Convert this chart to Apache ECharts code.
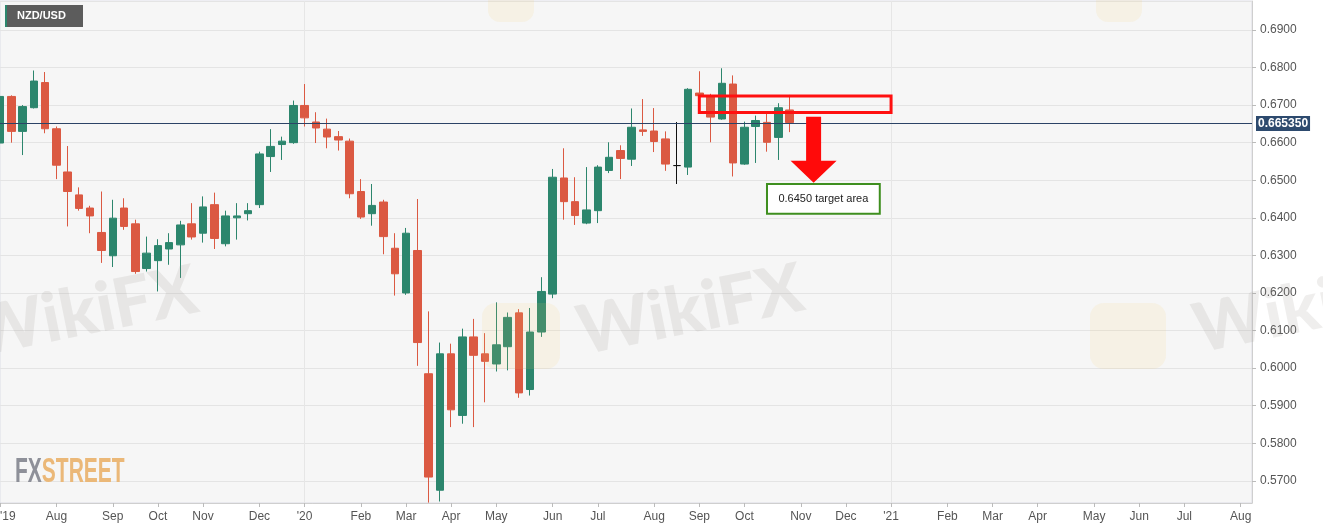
<!DOCTYPE html>
<html lang="en">
<head>
    <meta charset="UTF-8">
    <title>NZD/USD</title>
    <script src="https://cdn.jsdelivr.net/npm/echarts@6/dist/echarts.min.js"></script>
    <style>
        html, body { margin: 0; padding: 0; background: #fff; }
    </style>
</head>
<body>
<div id="box" style="width: 1323px;height: 529px;"></div>
<script>
    // weekly bars, first one is the week of 23 Jun 2019
    var firstWeek = '2019-06-23';
    var weekCount = 112;
    var monthNames = ['Jan', 'Feb', 'Mar', 'Apr', 'May', 'Jun', 'Jul', 'Aug', 'Sep', 'Oct', 'Nov', 'Dec'];

    var opens = [0.6599, 0.6723, 0.6630, 0.6693, 0.6760, 0.6637, 0.6522, 0.6461, 0.6426, 0.6361,
        0.6299, 0.6426, 0.6384, 0.6265, 0.6286, 0.6317, 0.6328, 0.6384, 0.6359, 0.6435,
        0.6331, 0.6400, 0.6411, 0.6435, 0.6563, 0.6595, 0.6600, 0.6699, 0.6655, 0.6636,
        0.6616, 0.6604, 0.6470, 0.6411, 0.6442, 0.6319, 0.6200, 0.6313, 0.5985, 0.5675,
        0.6038, 0.5874, 0.6083, 0.6038, 0.6011, 0.6057, 0.6147, 0.5943, 0.6096, 0.6197,
        0.6506, 0.6443, 0.6386, 0.6419, 0.6526, 0.6579, 0.6556, 0.6634, 0.6631, 0.6610,
        0.6539, 0.6535, 0.6732, 0.6723, 0.6663, 0.6756, 0.6543, 0.6643, 0.6654, 0.6614,
        0.6687];
    var highs = [0.6730, 0.6726, 0.6700, 0.6792, 0.6788, 0.6643, 0.6591, 0.6481, 0.6432, 0.6470,
        0.6448, 0.6452, 0.6395, 0.6350, 0.6343, 0.6359, 0.6392, 0.6439, 0.6457, 0.6467,
        0.6419, 0.6439, 0.6439, 0.6576, 0.6636, 0.6616, 0.6712, 0.6756, 0.6681, 0.6664,
        0.6631, 0.6611, 0.6503, 0.6490, 0.6448, 0.6359, 0.6373, 0.6450, 0.6151, 0.6068,
        0.6065, 0.6105, 0.6131, 0.6093, 0.6175, 0.6148, 0.6157, 0.6160, 0.6242, 0.6530,
        0.6585, 0.6508, 0.6535, 0.6540, 0.6601, 0.6593, 0.6691, 0.6716, 0.6692, 0.6630,
        0.6655, 0.6745, 0.6790, 0.6730, 0.6798, 0.6779, 0.6656, 0.6672, 0.6683, 0.6705,
        0.6727];
    // the two March 2020 lows run off the bottom of the window: read at the edge
    var lows = [0.6590, 0.6600, 0.6567, 0.6691, 0.6625, 0.6503, 0.6377, 0.6419, 0.6359, 0.6280,
        0.6269, 0.6368, 0.6251, 0.6257, 0.6204, 0.6275, 0.6240, 0.6342, 0.6334, 0.6317,
        0.6324, 0.6342, 0.6393, 0.6426, 0.6522, 0.6554, 0.6597, 0.6643, 0.6599, 0.6585,
        0.6579, 0.6452, 0.6397, 0.6379, 0.6303, 0.6193, 0.6195, 0.6006, 0.5642, 0.5645,
        0.5843, 0.5852, 0.5843, 0.5909, 0.5991, 0.5994, 0.5921, 0.5927, 0.6083, 0.6186,
        0.6395, 0.6381, 0.6383, 0.6386, 0.6519, 0.6503, 0.6538, 0.6618, 0.6575, 0.6525,
        0.6490, 0.6514, 0.6690, 0.6601, 0.6661, 0.6510, 0.6541, 0.6546, 0.6576, 0.6554,
        0.6628];
    var closes = [0.6723, 0.6630, 0.6696, 0.6764, 0.6637, 0.6540, 0.6470, 0.6425, 0.6405, 0.6313,
        0.6399, 0.6377, 0.6257, 0.6306, 0.6326, 0.6334, 0.6381, 0.6349, 0.6429, 0.6345,
        0.6405, 0.6405, 0.6419, 0.6570, 0.6590, 0.6604, 0.6699, 0.6666, 0.6639, 0.6615,
        0.6607, 0.6464, 0.6402, 0.6433, 0.6350, 0.6251, 0.6359, 0.6068, 0.5710, 0.6038,
        0.5889, 0.6083, 0.6034, 0.6018, 0.6062, 0.6135, 0.5934, 0.6096, 0.6204, 0.6508,
        0.6443, 0.6406, 0.6421, 0.6535, 0.6561, 0.6558, 0.6641, 0.6630, 0.6603, 0.6543,
        0.6539, 0.6742, 0.6725, 0.6668, 0.6758, 0.6546, 0.6641, 0.6659, 0.6601, 0.6693,
        0.66535];

    var lastPrice = 0.66535;
    // [from week, to week, top, bottom]
    var zoneBox = [62, 79, 0.6724, 0.6680];
    var targetBox = [68, 78, 0.6490, 0.6411];
    var targetText = '0.6450 target area';
    // [week, shaft top, head base, tip]
    var arrowLine = [72, 0.6669, 0.6552, 0.6493];

    var green = '#2c866d', red = '#db5942';
    var DAY = 86400000;

    // month ticks sit on the week holding the month's first trading day
    var weeks = [], tickText = [];
    var d0 = new Date(firstWeek + 'T00:00:00Z');
    for (var i = 0; i < weekCount; i++) {
        var d = new Date(d0.getTime() + i * 7 * DAY);
        weeks.push(d.toISOString().slice(0, 10));
        var fri = new Date(d.getTime() + 5 * DAY);
        var prevFri = new Date(d.getTime() - 2 * DAY);
        var t = '';
        if (i === 0) t = "'" + String(d.getUTCFullYear()).slice(2);
        else if (i > 1 && fri.getUTCMonth() !== prevFri.getUTCMonth()) {
            var m = fri.getUTCMonth();
            t = m === 0 ? "'" + String(fri.getUTCFullYear()).slice(2) : monthNames[m];
        }
        tickText.push(t);
    }

    var candles = weeks.map(function (w, i) {
        if (i >= opens.length) return '-';
        return [opens[i], closes[i], lows[i], highs[i]];
    });

    var wmStyle = {text: 'WikiFX', font: '900 68px Lato, sans-serif', fill: 'rgba(150,140,135,0.15)'};

    var myChart = echarts.init(document.getElementById('box'));
    var option = {
        animation: false,
        backgroundColor: '#fff',
        textStyle: {fontFamily: 'Liberation Sans, Arial, sans-serif'},
        grid: {
            left: 0, right: 71, top: 1, bottom: 26,
            outerBoundsMode: 'none',
            containLabel: false,
            show: true, backgroundColor: '#f6f6f6', borderColor: '#dcdde6', borderWidth: 1
        },
        xAxis: {
            type: 'category',
            data: weeks,
            boundaryGap: false,
            axisLine: {lineStyle: {color: '#cfcfcf'}},
            axisTick: {
                length: 4, lineStyle: {color: '#bbb'},
                interval: function (idx) { return tickText[idx] !== ''; }
            },
            axisLabel: {
                color: '#555', fontSize: 12, margin: 8, alignMinLabel: 'left', hideOverlap: false,
                interval: function (idx) { return tickText[idx] !== ''; },
                formatter: function (v, idx) { return tickText[idx]; }
            },
            splitLine: {
                show: true, lineStyle: {color: '#e6e6e6'},
                interval: function (idx) { return tickText[idx].charAt(0) === "'" && idx > 0; }
            }
        },
        yAxis: {
            type: 'value',
            position: 'right',
            scale: true,
            min: 0.5641,
            max: 0.6977,
            minInterval: 0.01,
            maxInterval: 0.01,
            splitNumber: 13,
            axisLine: {show: true, lineStyle: {color: '#cfcfcf'}},
            axisTick: {show: true, length: 4, lineStyle: {color: '#bbb'}},
            axisLabel: {
                color: '#555', fontSize: 12, margin: 8,
                showMinLabel: false, showMaxLabel: false,
                formatter: function (v) { return v.toFixed(4); }
            },
            splitLine: {lineStyle: {color: '#e4e4e4'}}
        },
        graphic: [
            {type: 'text', x: -34, y: 302, rotation: 0.2, z: 10, silent: true, style: wmStyle},
            {type: 'text', x: 572, y: 300, rotation: 0.2, z: 10, silent: true, style: wmStyle},
            {type: 'text', x: 1188, y: 298, rotation: 0.2, z: 10, silent: true, style: wmStyle},
            {type: 'rect', shape: {x: 482, y: 303, width: 78, height: 66, r: 14}, z: 10, silent: true,
                style: {fill: 'rgba(245,205,110,0.12)'}},
            {type: 'rect', shape: {x: 1090, y: 303, width: 76, height: 66, r: 14}, z: 10, silent: true,
                style: {fill: 'rgba(245,205,110,0.12)'}},
            {type: 'rect', shape: {x: 488, y: -40, width: 46, height: 62, r: 12}, z: 10, silent: true,
                style: {fill: 'rgba(245,205,110,0.12)'}},
            {type: 'rect', shape: {x: 1096, y: -40, width: 46, height: 62, r: 12}, z: 10, silent: true,
                style: {fill: 'rgba(245,205,110,0.12)'}},
            {type: 'rect', shape: {x: 5, y: 5, width: 78, height: 22}, z: 20, style: {fill: '#5c5c5c'}},
            {type: 'rect', shape: {x: 5, y: 5, width: 2, height: 22}, z: 21, style: {fill: green}},
            {type: 'text', x: 17, y: 16, z: 21,
                style: {text: 'NZD/USD', fill: '#fff', font: 'bold 11px Liberation Sans, Arial', verticalAlign: 'middle'}},
            {type: 'text', x: 15, y: 455, z: 21, scaleX: 0.6,
                style: {
                    text: '{a|FX}{b|STREET}', font: 'bold 35px Liberation Sans, Arial',
                    rich: {a: {fill: '#8e9099', font: 'bold 35px Liberation Sans, Arial'},
                        b: {fill: '#ebb878', font: 'bold 35px Liberation Sans, Arial'}}
                }}
        ],
        series: [
            {
                type: 'candlestick',
                data: candles,
                barWidth: 8,
                itemStyle: {
                    color: green, color0: red,
                    borderColor: green, borderColor0: red, borderColorDoji: '#111',
                    borderWidth: 1
                }
            },
            {
                // last price line with its tag on the price scale
                type: 'custom',
                z: 4,
                silent: true,
                data: [[0, lastPrice]],
                encode: {x: 0, y: 1},
                renderItem: function (params, api) {
                    var p = api.coord([api.value(0), api.value(1)]);
                    var cs = params.coordSys;
                    var y = Math.round(p[1]) + 0.5;
                    return {
                        type: 'group',
                        children: [{
                            type: 'line',
                            shape: {x1: cs.x, y1: y, x2: cs.x + cs.width, y2: y},
                            style: {stroke: '#2b4366', lineWidth: 1}
                        }, {
                            type: 'text',
                            x: cs.x + cs.width + 4, y: y,
                            style: {
                                text: api.value(1).toFixed(6), fill: '#fff', backgroundColor: '#2d4a6e',
                                padding: [2, 2, 1, 2], verticalAlign: 'middle',
                                font: 'bold 12px Liberation Sans, Arial'
                            }
                        }]
                    };
                }
            },
            {
                type: 'custom',
                z: 5,
                silent: true,
                data: [zoneBox],
                encode: {x: [0, 1], y: [2, 3]},
                renderItem: function (params, api) {
                    var p0 = api.coord([api.value(0), api.value(2)]);
                    var p1 = api.coord([api.value(1), api.value(3)]);
                    return {
                        type: 'rect',
                        shape: {x: p0[0], y: p0[1], width: p1[0] - p0[0], height: p1[1] - p0[1]},
                        style: {fill: 'none', stroke: '#ff1010', lineWidth: 3}
                    };
                }
            },
            {
                type: 'custom',
                z: 5,
                silent: true,
                data: [targetBox],
                encode: {x: [0, 1], y: [2, 3]},
                renderItem: function (params, api) {
                    var p0 = api.coord([api.value(0), api.value(2)]);
                    var p1 = api.coord([api.value(1), api.value(3)]);
                    return {
                        type: 'group',
                        children: [{
                            type: 'rect',
                            shape: {x: p0[0], y: p0[1], width: p1[0] - p0[0], height: p1[1] - p0[1]},
                            style: {fill: '#fff', stroke: '#3f8f1f', lineWidth: 2}
                        }, {
                            type: 'text',
                            x: (p0[0] + p1[0]) / 2, y: (p0[1] + p1[1]) / 2,
                            style: {
                                text: targetText, fill: '#222', align: 'center', verticalAlign: 'middle',
                                font: '11px Liberation Sans, Arial'
                            }
                        }]
                    };
                }
            },
            {
                type: 'custom',
                z: 6,
                silent: true,
                data: [arrowLine],
                encode: {x: 0, y: [1, 2, 3]},
                renderItem: function (params, api) {
                    var top = api.coord([api.value(0), api.value(1)]);
                    var base = api.coord([api.value(0), api.value(2)]);
                    var tip = api.coord([api.value(0), api.value(3)]);
                    var cx = top[0] + 1.5;
                    return {
                        type: 'polygon',
                        shape: {
                            points: [
                                [cx - 7.5, top[1]], [cx + 7.5, top[1]], [cx + 7.5, base[1]],
                                [cx + 23, base[1]], [cx, tip[1]], [cx - 23, base[1]], [cx - 7.5, base[1]]
                            ]
                        },
                        style: {fill: '#ff0a0a'}
                    };
                }
            }
        ]
    };
    myChart.setOption(option);
</script>
</body>
</html>
